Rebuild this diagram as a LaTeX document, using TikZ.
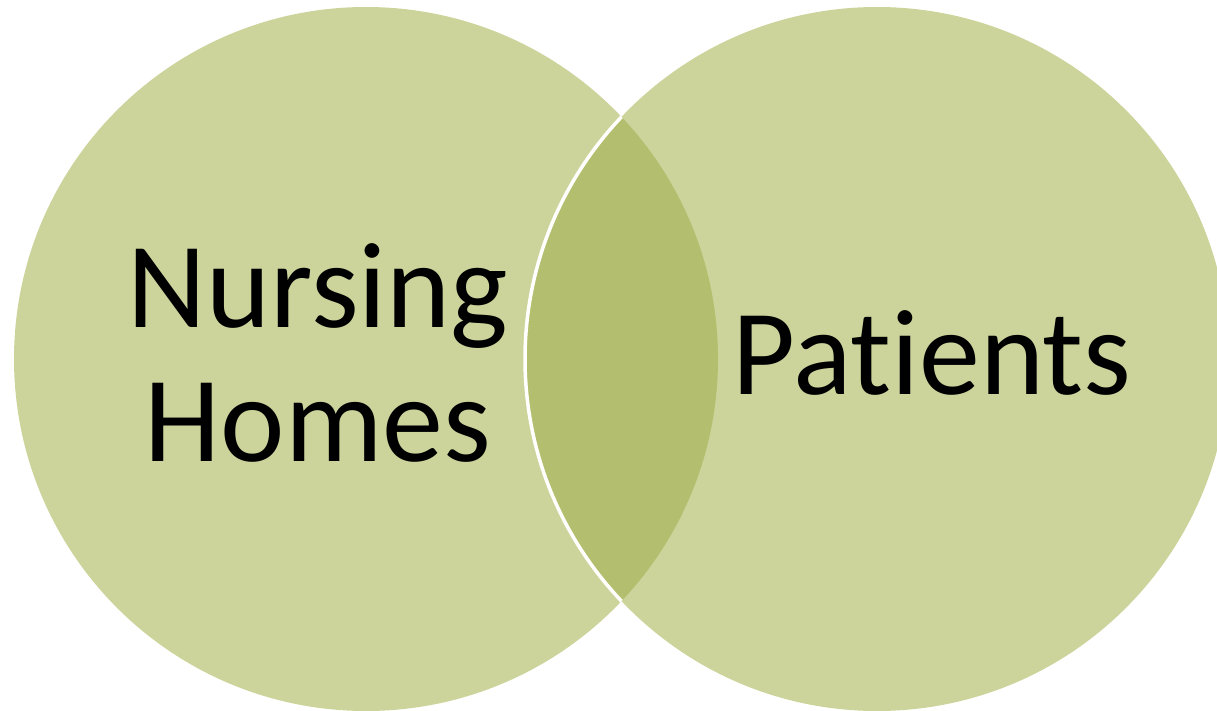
\documentclass[tikz,border=0pt]{standalone}
\usepackage{fontspec}
\setmainfont{Carlito}[Ligatures={NoCommon,NoRare}]
\definecolor{vlight}{RGB}{205,212,155}
\definecolor{vdark}{RGB}{179,191,110}
\tikzset{
  venn/.style={circle, fill=vlight, inner sep=0pt, minimum size=704pt},
  lbl/.style={inner sep=0pt, align=center, text=black, font=\fontsize{122}{134}\selectfont},
}
\begin{document}
\begin{tikzpicture}[x=1pt,y=-1pt]
\useasboundingbox (0,0) rectangle (1217,711);
\node[venn] (L) at (366,359) {};
\node[venn] (R) at (877,359) {};
\begin{scope}
  \clip (366,359) circle (352);
  \fill[vdark] (877,359) circle (352);
  \draw[white, line width=3.5pt] (877,359) circle (352);
\end{scope}
\node[lbl, anchor=base] (nh) at (318,461) {Nursing\\Homes};
\node[lbl, anchor=base] (pt) at (932,394) {Patients};
\end{tikzpicture}
\end{document}
